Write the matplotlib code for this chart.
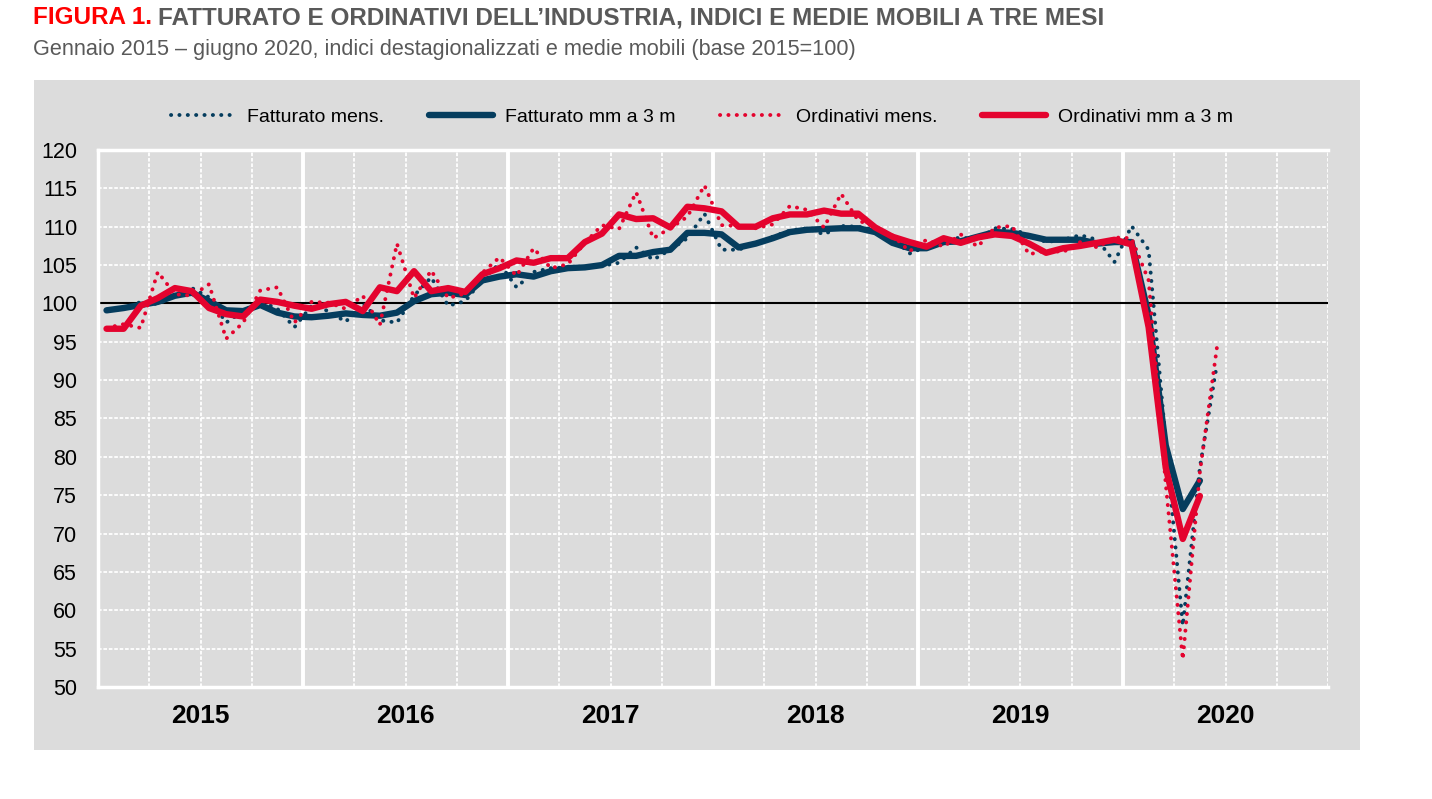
import numpy as np
import matplotlib
matplotlib.use('Agg')
import matplotlib.pyplot as plt
from matplotlib.patches import Rectangle

plt.rcParams['font.family'] = ['Liberation Sans Narrow', 'Liberation Sans', 'DejaVu Sans']

# Dati: gennaio 2015 - giugno 2020 (mensili), medie mobili centrate fino a maggio 2020
fatt_mens = [
    99.0, 99.3, 100.2, 99.9, 101.0, 102.0, 100.8, 97.5, 99.0, 100.3, 99.3, 96.9,
    99.7, 99.0, 97.6, 100.0, 97.8, 97.5, 101.0, 103.4, 99.7, 100.3, 103.1, 105.2,
    102.1, 104.1, 104.6, 104.7, 104.7, 104.9, 105.3, 107.3, 105.7, 107.0, 108.5, 111.7,
    107.0, 107.0, 107.8, 108.7, 109.5, 109.8, 109.0, 110.1, 110.0, 109.6, 108.7, 106.5,
    107.4, 108.2, 108.6, 108.3, 109.8, 109.7, 108.9, 108.0, 108.3, 108.9, 108.3, 105.4,
    110.1, 107.0, 82.0, 58.0, 78.6, 92.1,
]
fatt_mm = [
    99.1, 99.4, 99.8, 100.2, 101.0, 101.4, 100.3, 99.1, 99.0, 99.8, 98.8, 98.3,
    98.2, 98.4, 98.7, 98.5, 98.4, 98.8, 100.3, 101.2, 101.4, 101.1, 103.0, 103.5,
    103.8, 103.5, 104.2, 104.6, 104.7, 105.0, 106.2, 106.2, 106.7, 107.0, 109.2, 109.2,
    109.0, 107.3, 107.8, 108.5, 109.3, 109.6, 109.7, 109.8, 109.8, 109.3, 107.9, 107.2,
    107.2, 108.0, 108.1, 108.7, 109.3, 109.2, 108.8, 108.3, 108.3, 108.3, 107.8, 108.0,
    108.0, 98.5, 81.5, 73.2, 76.9,
]
ord_mens = [
    96.8, 97.3, 96.8, 104.1, 101.2, 101.0, 102.5, 95.4, 97.5, 101.7, 102.1, 97.5,
    100.2, 100.1, 99.3, 101.0, 97.2, 107.8, 100.7, 104.3, 100.7, 101.3, 104.0, 106.0,
    103.6, 107.2, 104.6, 105.1, 107.9, 110.2, 109.7, 114.5, 108.5, 109.8, 111.3, 115.4,
    110.2, 110.1, 109.8, 110.3, 112.7, 112.2, 109.9, 114.3, 110.8, 110.0, 108.9, 106.8,
    108.3, 107.4, 109.0, 107.4, 109.9, 110.1, 106.4, 106.9, 106.7, 108.0, 107.3, 108.6,
    108.5, 103.0, 76.5, 53.6, 78.0, 94.3,
]
ord_mm = [
    96.7, 96.7, 99.7, 100.7, 102.0, 101.6, 99.4, 98.6, 98.3, 100.5, 100.2, 99.7,
    99.3, 99.9, 100.2, 99.0, 102.1, 101.6, 104.2, 101.6, 102.0, 101.5, 103.8, 104.6,
    105.6, 105.3, 105.9, 105.9, 108.0, 109.1, 111.6, 111.0, 111.1, 109.9, 112.6, 112.4,
    112.0, 110.0, 110.0, 111.1, 111.6, 111.6, 112.1, 111.7, 111.7, 109.9, 108.7, 108.0,
    107.4, 108.5, 107.9, 108.6, 109.0, 108.8, 107.8, 106.6, 107.2, 107.5, 107.9, 108.3,
    107.7, 96.9, 78.6, 69.3, 74.9,
]
anni = ['2015', '2016', '2017', '2018', '2019', '2020']

NAVY = '#053d5e'
RED = '#e4032e'
GREY_BG = '#dcdcdc'

x_mens = np.arange(len(fatt_mens)) + 0.5
x_mm = np.arange(len(fatt_mm)) + 0.5

fig = plt.figure(figsize=(14.32, 7.99), dpi=100)

# pannello grigio (dietro agli assi)
fig.patches.append(Rectangle((34 / 1432, 1 - 750 / 799), (1360 - 34) / 1432, (750 - 80) / 799,
                             transform=fig.transFigure, facecolor=GREY_BG, edgecolor='none', zorder=-5))

ax = fig.add_axes([98 / 1432, 1 - 687 / 799, 1230 / 1432, 537 / 799])
ax.set_facecolor(GREY_BG)

n_mesi = 12 * len(anni)
ax.set_xlim(0, n_mesi)
ax.set_ylim(50, 120)

# griglia
for y in range(55, 121, 5):
    ax.axhline(y, color='white', lw=1.3, ls=(0, (2, 1)), zorder=1)
for m in range(3, n_mesi + 1, 3):
    if m % 12 == 0 and m < n_mesi:
        ax.axvline(m, color='white', lw=2.8, zorder=1)
    else:
        ax.axvline(m, color='white', lw=1.3, ls=(0, (2, 1)), zorder=1)
ax.axhline(100, color='black', lw=1.5, zorder=2)

dots = (0, (0.05, 2.1))
ax.plot(x_mens, fatt_mens, color=NAVY, lw=2.8, ls=dots, dash_capstyle='round',
        label='Fatturato mens.', zorder=3)
ax.plot(x_mm, fatt_mm, color=NAVY, lw=4.6, solid_capstyle='round', solid_joinstyle='round',
        label='Fatturato mm a 3 m', zorder=4)
ax.plot(x_mens, ord_mens, color=RED, lw=2.8, ls=dots, dash_capstyle='round',
        label='Ordinativi mens.', zorder=5)
ax.plot(x_mm, ord_mm, color=RED, lw=4.6, solid_capstyle='round', solid_joinstyle='round',
        label='Ordinativi mm a 3 m', zorder=6)

for s in ['top', 'right']:
    ax.spines[s].set_visible(False)
for s in ['left', 'bottom']:
    ax.spines[s].set_color('white')
    ax.spines[s].set_linewidth(2.5)
ax.axhline(120, color='white', lw=2.5, zorder=1, clip_on=False)

ax.set_yticks(range(50, 121, 5))
ax.set_yticklabels([str(v) for v in range(50, 121, 5)], fontsize=15.5)
ax.set_xticks([12 * i + 6 for i in range(len(anni))])
ax.set_xticklabels(anni, fontsize=19, fontweight='bold')
ax.tick_params(axis='both', length=0)
ax.tick_params(axis='y', pad=15)
ax.tick_params(axis='x', pad=12)

leg = fig.legend(loc='center', bbox_to_anchor=(702 / 1432, 1 - 117 / 799), ncol=4, frameon=False,
                 fontsize=14, handlelength=3.3, handletextpad=0.6, columnspacing=2.3)

# titolo
t1 = fig.text(33 / 1432, 1 - 18 / 799, 'FIGURA 1.', color='#ff0000', fontsize=17.5,
              fontweight='bold', va='center', ha='left')
fig.canvas.draw()
bb = t1.get_window_extent()
fig.text((bb.x1 + 6) / 1432, 1 - 18 / 799,
         'FATTURATO E ORDINATIVI DELL\u2019INDUSTRIA, INDICI E MEDIE MOBILI A TRE MESI',
         color='#595959', fontsize=17.5, fontweight='bold', va='center', ha='left')
fig.text(33 / 1432, 1 - 50 / 799,
         'Gennaio 2015 \u2013 giugno 2020, indici destagionalizzati e medie mobili (base 2015=100)',
         color='#595959', fontsize=15.6, va='center', ha='left')

fig.savefig('out.png', dpi=100)
